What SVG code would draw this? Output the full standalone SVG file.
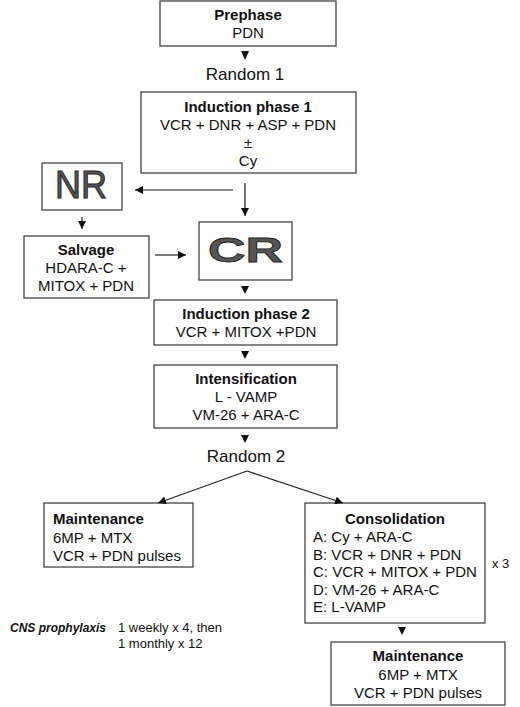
<svg xmlns="http://www.w3.org/2000/svg" width="520" height="707" viewBox="0 0 520 707">
<style>
  .box { fill: #fff; stroke: #444; stroke-width: 1.3; }
  text { font-family: "Liberation Sans", Arial, sans-serif; fill: #111; }
  .t { font-size: 15px; }
  .b { font-size: 15px; font-weight: bold; }
  .c { text-anchor: middle; }
  .big { font-size: 17px; }
  .sm { font-size: 13px; }
  .ln { stroke: #222; stroke-width: 1.2; fill: none; }
  .tri { fill: #111; }
</style>
<defs>
  <marker id="ah" viewBox="0 0 10 10" refX="10" refY="5" markerWidth="8" markerHeight="8" markerUnits="userSpaceOnUse" orient="auto">
    <path d="M0,0 L10,5 L0,10 Z" fill="#111"/>
  </marker>
</defs>
<rect width="520" height="707" fill="#fff"/>

<g id="prephase">
  <rect class="box" x="160" y="1" width="176" height="45"/>
  <text class="b c" x="248" y="20">Prephase</text>
  <text class="t c" x="248" y="38">PDN</text>
</g>
<g id="random1">
  <text class="big c" x="245" y="80">Random 1</text>
</g>
<g id="induction1">
  <rect class="box" x="141" y="92" width="215" height="81"/>
  <text class="b c" x="248" y="112">Induction phase 1</text>
  <text class="t c" x="248" y="130">VCR + DNR + ASP + PDN</text>
  <text class="t c" x="248" y="148">±</text>
  <text class="t c" x="248" y="166">Cy</text>
</g>
<g id="nr">
  <rect class="box" x="42" y="163" width="80" height="47"/>
  <text x="55" y="198" font-size="39" textLength="52" lengthAdjust="spacingAndGlyphs" style="fill:#555;stroke:#222;stroke-width:1">NR</text>
</g>
<g id="cr">
  <rect class="box" x="199" y="222" width="93" height="58"/>
  <text x="208" y="262" font-size="35" font-weight="bold" textLength="75" lengthAdjust="spacingAndGlyphs" style="fill:#555;stroke:#222;stroke-width:0.8">CR</text>
</g>
<g id="salvage">
  <rect class="box" x="24" y="236" width="125" height="62"/>
  <text class="b c" x="86" y="255">Salvage</text>
  <text class="t c" x="86" y="273">HDARA-C +</text>
  <text class="t c" x="86" y="291">MITOX + PDN</text>
</g>
<g id="induction2">
  <rect class="box" x="154" y="300" width="183" height="45"/>
  <text class="b c" x="246" y="319">Induction phase 2</text>
  <text class="t c" x="246" y="337">VCR + MITOX +PDN</text>
</g>
<g id="intensification">
  <rect class="box" x="154" y="365" width="183" height="63"/>
  <text class="b c" x="246" y="384">Intensification</text>
  <text class="t c" x="246" y="402">L - VAMP</text>
  <text class="t c" x="246" y="420">VM-26 + ARA-C</text>
</g>
<g id="random2">
  <text class="big c" x="246" y="462">Random 2</text>
</g>
<g id="maintenance-left">
  <rect class="box" x="44" y="503" width="149" height="64"/>
  <text class="b" x="53" y="524">Maintenance</text>
  <text class="t" x="53" y="543">6MP + MTX</text>
  <text class="t" x="53" y="561">VCR + PDN pulses</text>
</g>
<g id="consolidation">
  <rect class="box" x="305" y="503" width="180" height="120"/>
  <text class="b c" x="395" y="524">Consolidation</text>
  <text class="t" x="313" y="542">A: Cy + ARA-C</text>
  <text class="t" x="313" y="560">B: VCR + DNR + PDN</text>
  <text class="t" x="313" y="577">C: VCR + MITOX + PDN</text>
  <text class="t" x="313" y="595">D: VM-26 + ARA-C</text>
  <text class="t" x="313" y="612">E: L-VAMP</text>
</g>
<g id="x3">
  <text class="sm" x="492" y="568">x 3</text>
</g>
<g id="cns">
  <text x="10" y="632" font-size="12" font-weight="bold" font-style="italic">CNS prophylaxis</text>
  <text class="sm" x="118" y="632">1 weekly x 4, then</text>
  <text class="sm" x="118" y="648">1 monthly x 12</text>
</g>
<g id="maintenance-right">
  <rect class="box" x="331" y="642" width="174" height="63"/>
  <text class="b c" x="418" y="661">Maintenance</text>
  <text class="t c" x="418" y="680">6MP + MTX</text>
  <text class="t c" x="418" y="698">VCR + PDN pulses</text>
</g>

<g id="connectors">
  <path class="tri" d="M241,51 L249,51 L245,60 Z"/>
  <line class="ln" x1="233" y1="190" x2="135" y2="190" marker-end="url(#ah)"/>
  <line class="ln" x1="245" y1="183" x2="245" y2="216" marker-end="url(#ah)"/>
  <line class="ln" x1="82" y1="217" x2="82" y2="229" marker-end="url(#ah)"/>
  <line class="ln" x1="155" y1="255" x2="186" y2="255" marker-end="url(#ah)"/>
  <path class="tri" d="M241,286 L249,286 L245,294 Z"/>
  <path class="tri" d="M241,351 L249,351 L245,359 Z"/>
  <path class="tri" d="M241,435 L249,435 L245,443 Z"/>
  <line class="ln" x1="247" y1="471" x2="158" y2="503" marker-end="url(#ah)"/>
  <line class="ln" x1="247" y1="471" x2="343" y2="503" marker-end="url(#ah)"/>
  <path class="tri" d="M398,627 L406,627 L402,635 Z"/>
</g>
</svg>
